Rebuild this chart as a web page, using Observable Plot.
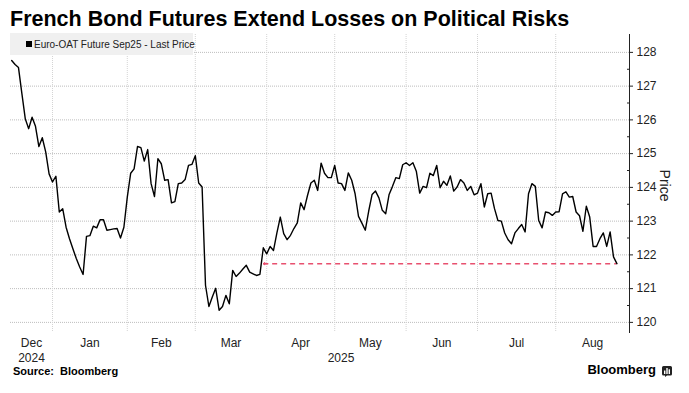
<!DOCTYPE html>
<html>
<head>
<meta charset="utf-8">
<script src="https://cdn.jsdelivr.net/npm/d3@7"></script>
<script src="https://cdn.jsdelivr.net/npm/@observablehq/plot@0.6"></script>
<style>
  html, body { margin: 0; padding: 0; background: #fff; }
  #wrap { position: relative; width: 689px; height: 393px; overflow: hidden; font-family: "Liberation Sans", Arial, sans-serif; }
  #chart { position: absolute; left: 0; top: 32px; }
  #title { position: absolute; left: 10px; top: 9px; font-size: 21.5px; line-height: 21.5px; font-weight: bold; color: #000; white-space: nowrap; }
  #legend { position: absolute; left: 10px; top: 33px; width: 183px; height: 22px; background: #f0f0f0; }
  #legend .sq { position: absolute; left: 16px; top: 8px; width: 6px; height: 6px; background: #000; }
  #legend .lbl { position: absolute; left: 24px; top: 7px; font-size: 10px; line-height: 10px; color: #222; white-space: nowrap; }
  #source { position: absolute; left: 13px; top: 366px; font-size: 11px; line-height: 11px; font-weight: bold; color: #000; white-space: nowrap; }
  #brand { position: absolute; right: 33px; top: 363px; font-size: 13px; line-height: 13px; font-weight: bold; color: #000; white-space: nowrap; }
  #icon { position: absolute; left: 662px; top: 366px; }
</style>
</head>
<body>
<div id="wrap">
  <div id="chart"></div>
  <div id="title">French Bond Futures Extend Losses on Political Risks</div>
  <div id="legend"><div class="sq"></div><div class="lbl">Euro-OAT Future Sep25 - Last Price</div></div>
  <div id="source">Source:&nbsp; Bloomberg</div>
  <div id="brand">Bloomberg</div>
  <svg id="icon" width="10" height="11" viewBox="0 0 10 11">
    <path d="M1.5 0 H8.5 A1.5 1.5 0 0 1 10 1.5 V8 A1.5 1.5 0 0 1 8.5 9.5 H5 L3 11 V9.5 H1.5 A1.5 1.5 0 0 1 0 8 V1.5 A1.5 1.5 0 0 1 1.5 0 Z" fill="#222"/>
    <rect x="2" y="4.5" width="1.4" height="3.5" fill="#fff"/>
    <rect x="4.3" y="2" width="1.4" height="6" fill="#fff"/>
    <rect x="6.6" y="3.3" width="1.4" height="4.7" fill="#fff"/>
  </svg>
</div>
<script>
// ---- Data ----
// Month labels along the x axis and the number of trading sessions shown in each month
const months = ["Dec", "Jan", "Feb", "Mar", "Apr", "May", "Jun", "Jul", "Aug"];
const monthSessions = [12, 22, 20, 21, 20, 21, 21, 23, 19];
const years = ["2024", "2025"];
const yearStartMonth = [0, 1];

// Euro-OAT Future Sep25 - Last Price, one value per trading session (Dec 10, 2024 .. Aug 27, 2025)
const prices = [
  127.76, 127.64, 127.55, 126.78, 126.03, 125.74, 126.08, 125.81, 125.21, 125.47,
  125.05, 124.40, 124.16, 124.33, 123.27, 123.37, 122.82, 122.48, 122.18, 121.89,
  121.64, 121.42, 122.55, 122.57, 122.85, 122.80, 123.04, 123.04, 122.73, 122.75,
  122.77, 122.78, 122.50, 122.82, 123.71, 124.42, 124.55, 125.21, 125.18, 124.78,
  125.12, 124.11, 123.73, 124.85, 124.70, 124.21, 124.23, 123.54, 123.58, 124.11,
  124.13, 124.23, 124.65, 124.68, 124.94, 124.13, 124.01, 121.10, 120.47, 120.75,
  121.01, 120.36, 120.47, 120.80, 120.55, 121.54, 121.36, 121.46, 121.58, 121.69,
  121.49, 121.44, 121.39, 121.42, 122.21, 122.03, 122.25, 122.13, 122.65, 123.12,
  122.63, 122.45, 122.58, 122.78, 122.95, 123.54, 123.34, 123.76, 124.13, 124.21,
  123.91, 124.72, 124.42, 124.29, 124.29, 124.65, 124.13, 124.11, 123.91, 124.43,
  124.21, 123.81, 123.14, 122.94, 122.73, 123.30, 123.79, 123.89, 123.69, 123.32,
  123.22, 123.79, 124.03, 124.29, 124.26, 124.67, 124.73, 124.65, 124.73, 124.48,
  123.83, 124.03, 123.99, 124.42, 124.35, 124.65, 123.99, 124.18, 124.06, 124.34,
  123.89, 124.01, 124.23, 124.13, 123.91, 124.03, 123.78, 123.83, 124.11, 123.42,
  123.81, 123.83, 123.37, 123.02, 123.00, 122.65, 122.45, 122.33, 122.65, 122.78,
  122.90, 122.68, 123.81, 124.11, 124.03, 123.02, 122.80, 123.27, 123.25, 123.17,
  123.27, 123.28, 123.81, 123.87, 123.71, 123.73, 123.27, 123.16, 122.70, 123.44,
  123.12, 122.25, 122.25, 122.48, 122.65, 122.25, 122.68, 121.94, 121.74
];

// Y axis ticks
const yTicks = [120, 121, 122, 123, 124, 125, 126, 127, 128];
const yMinorTicks = [120.5, 121.5, 122.5, 123.5, 124.5, 125.5, 126.5, 127.5];
const yDomain = [119.7, 128.53];
const yLabel = "Price";
const seriesName = "Euro-OAT Future Sep25 - Last Price";

// ---- Derived structures ----
const n = prices.length;
const data = prices.map((p, i) => ({session: i, price: p}));
const monthStarts = [];
{ let c = 0; for (const s of monthSessions) { monthStarts.push(c); c += s; } }
const xDomain = [-0.35, n + 2.7];
const monthLabels = months.map((m, k) => ({
  label: m,
  x: ((k === 0 ? xDomain[0] : monthStarts[k]) + (k === months.length - 1 ? xDomain[1] : monthStarts[k + 1])) / 2
}));
const yearLabels = years.map((y, k) => {
  const a = yearStartMonth[k];
  const b = k + 1 < years.length ? yearStartMonth[k + 1] : months.length;
  const lo = a === 0 ? xDomain[0] : monthStarts[a];
  const hi = b >= months.length ? xDomain[1] : monthStarts[b];
  return {label: y, x: k === 0 ? monthLabels[0].x : (lo + hi) / 2};
});

// Last price reference line: back to where the price last stood at this level
const lastPrice = prices[n - 1];
let cross = 0;
for (let i = n - 2; i >= 0; i--) {
  if (prices[i] <= lastPrice) {
    cross = i + (lastPrice - prices[i]) / (prices[i + 1] - prices[i]);
    break;
  }
}
const refStart = cross + 0.7;
const pink = "#e8506f";

const chart = Plot.plot({
  width: 689,
  height: 334,
  marginTop: 2,
  marginBottom: 34,
  marginLeft: 10,
  marginRight: 60,
  x: {type: "linear", domain: xDomain, axis: null},
  y: {domain: yDomain, axis: null},
  style: {fontFamily: "'Liberation Sans', Arial, sans-serif", fontSize: "12px", color: "#333", background: "transparent", overflow: "visible"},
  marks: [
    Plot.gridY(yTicks, {stroke: "#bdbdbd", strokeOpacity: 1, strokeDasharray: "1,1"}),
    Plot.gridX(monthStarts.slice(1), {stroke: "#d4d4d4", strokeOpacity: 1, strokeDasharray: "1,1"}),
    Plot.ruleY([{y: lastPrice, x1: refStart, x2: n - 1}], {y: "y", x1: "x1", x2: "x2", stroke: pink, strokeWidth: 1.5, strokeDasharray: "5,4"}),
    Plot.arrow([{y: lastPrice, x1: refStart + 1.2, x2: refStart}], {x1: "x1", x2: "x2", y1: "y", y2: "y", stroke: pink, strokeWidth: 1.3, headLength: 5, headAngle: 80}),
    Plot.line(data, {x: "session", y: "price", stroke: "#000", strokeWidth: 1.4, title: () => seriesName}),
    Plot.frame({anchor: "right", stroke: "#222", strokeWidth: 1}),
    Plot.axisY(yTicks, {anchor: "right", tickSize: 3, tickPadding: 4, fontSize: 12, stroke: "#222", fill: "#222", label: null}),
    Plot.axisY(yMinorTicks, {anchor: "right", tickSize: 3, dx: -3, tickFormat: () => "", stroke: "#222", label: null}),
    Plot.text(monthLabels, {x: "x", text: "label", frameAnchor: "bottom", lineAnchor: "top", dy: 6, fontSize: 12, fill: "#222"}),
    Plot.text(yearLabels, {x: "x", text: "label", frameAnchor: "bottom", lineAnchor: "top", dy: 21, fontSize: 12, fill: "#222"}),
    Plot.text([yLabel], {text: d => d, frameAnchor: "right", textAnchor: "middle", lineAnchor: "middle", rotate: 90, dx: 35, dy: 2, fontSize: 14, fill: "#222"})
  ]
});
document.getElementById("chart").appendChild(chart);
</script>
</body>
</html>
